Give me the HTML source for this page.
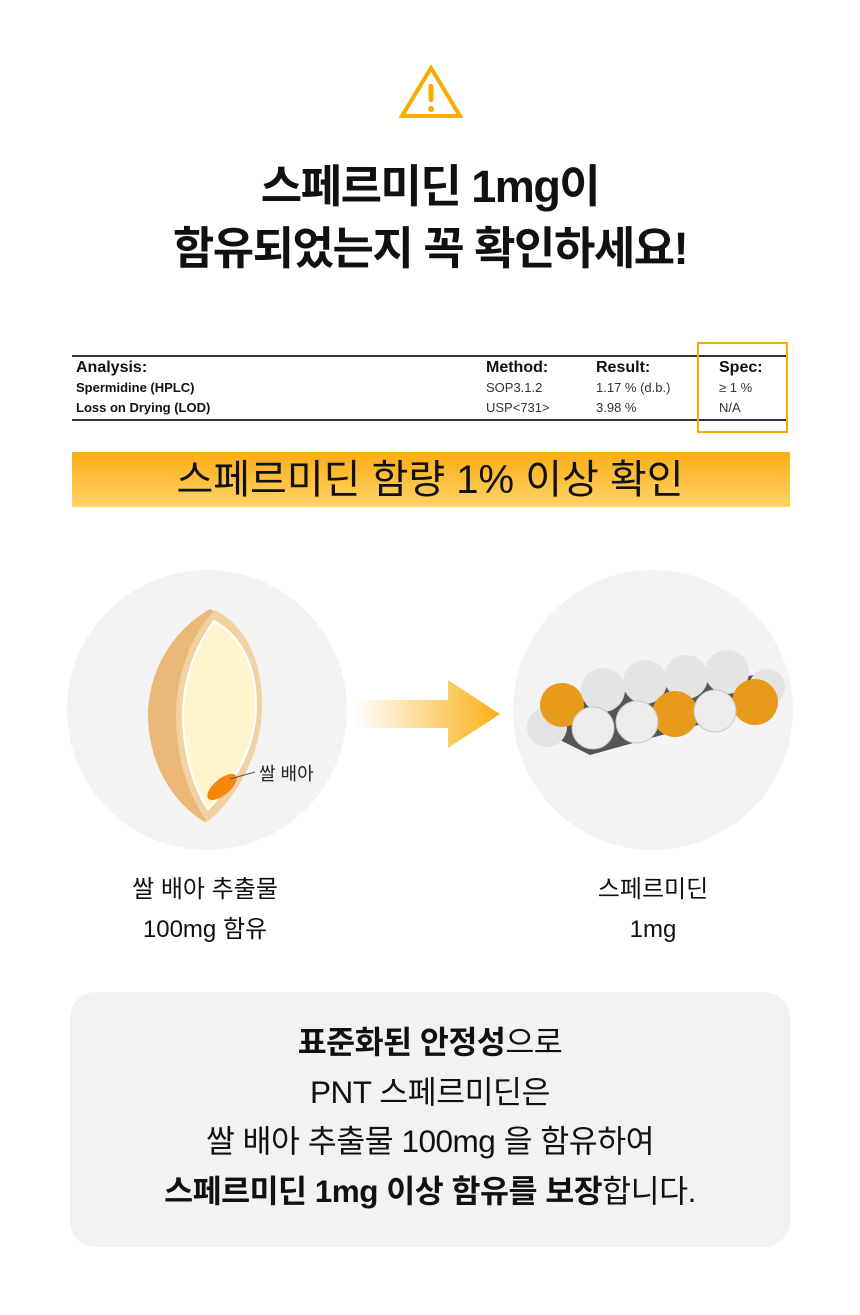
<!DOCTYPE html>
<html><head><meta charset="utf-8"><style>
*{margin:0;padding:0;box-sizing:border-box}
body{width:860px;height:1315px;background:#fff;position:relative;overflow:hidden;font-family:"Liberation Sans","Noto Sans CJK KR",sans-serif;color:#111}
.abs{position:absolute}
.t{position:absolute;left:0;width:860px;text-align:center}
.tbl{font-family:"Liberation Sans",sans-serif;position:absolute;color:#111}
</style></head><body>
<svg class="abs" style="left:398px;top:64px" width="66" height="56" viewBox="0 0 66 56">
<path d="M33 4 L62 52 L4 52 Z" fill="none" stroke="#f9ab00" stroke-width="4" stroke-linejoin="miter"/>
<rect x="30.5" y="20" width="5" height="18" rx="2" fill="#f9ab00"/>
<circle cx="33" cy="45" r="3" fill="#f9ab00"/>
</svg>
<div class="t" style="top:158px;font-size:45px;font-weight:bold;letter-spacing:-1.5px;line-height:58px">스페르미딘 1mg이</div>
<div class="t" style="top:220px;font-size:45px;font-weight:bold;letter-spacing:-1.5px;line-height:58px">함유되었는지 꼭 확인하세요!</div>

<div class="abs" style="left:72px;top:355px;width:716px;height:2px;background:#333"></div>
<div class="abs" style="left:72px;top:419px;width:716px;height:2px;background:#333"></div>
<div class="tbl" style="left:76px;top:359px;font-size:16px;font-weight:bold">Analysis:</div>
<div class="tbl" style="left:76px;top:380px;font-size:13px;font-weight:bold">Spermidine (HPLC)</div>
<div class="tbl" style="left:76px;top:400px;font-size:13px;font-weight:bold">Loss on Drying (LOD)</div>
<div class="tbl" style="left:486px;top:359px;font-size:16px;font-weight:bold">Method:</div>
<div class="tbl" style="left:486px;top:380px;font-size:13px;color:#333">SOP3.1.2</div>
<div class="tbl" style="left:486px;top:400px;font-size:13px;color:#333">USP&lt;731&gt;</div>
<div class="tbl" style="left:596px;top:359px;font-size:16px;font-weight:bold">Result:</div>
<div class="tbl" style="left:596px;top:380px;font-size:13px;color:#333">1.17 % (d.b.)</div>
<div class="tbl" style="left:596px;top:400px;font-size:13px;color:#333">3.98 %</div>
<div class="tbl" style="left:719px;top:359px;font-size:16px;font-weight:bold">Spec:</div>
<div class="tbl" style="left:719px;top:380px;font-size:13px;color:#333">≥ 1 %</div>
<div class="tbl" style="left:719px;top:400px;font-size:13px;color:#333">N/A</div>
<div class="abs" style="left:697px;top:342px;width:91px;height:91px;border:2px solid #f9ab00"></div>

<div class="abs" style="left:72px;top:452px;width:718px;height:55px;background:linear-gradient(#fbac14,#ffd468)"></div>
<div class="t" style="top:453px;font-size:40px;line-height:55px;color:#111">스페르미딘 함량 1% 이상 확인</div>

<div class="abs" style="left:67px;top:570px;width:280px;height:280px;border-radius:50%;background:#f3f3f3"></div>
<div class="abs" style="left:513px;top:570px;width:280px;height:280px;border-radius:50%;background:#f3f3f3"></div>

<svg class="abs" style="left:0;top:0" width="860" height="900">
<defs>
<linearGradient id="ar" x1="0" x2="1"><stop offset="0" stop-color="#fbb015" stop-opacity="0"/><stop offset="1" stop-color="#fbb015"/></linearGradient>
</defs>
<path d="M210 609 C165 635 148 680 148 715 C148 765 175 805 205 822 L215 815 C240 790 262 750 262 705 C262 660 245 625 210 609Z" fill="#ecb878"/>
<path d="M215 610 C195 630 176 670 176 715 C176 765 192 800 207 822 C235 800 262 755 262 705 C262 660 245 625 215 610Z" fill="#f1d2a2"/>
<path d="M214 621 C196 645 183 680 183 715 C183 755 195 790 208 809 C232 785 256 750 256 705 C256 665 240 635 214 621Z" fill="#fff6cf" stroke="#fff" stroke-width="2"/>
<ellipse cx="222" cy="787" rx="18" ry="8" transform="rotate(-40 222 787)" fill="#f7870b"/>
<line x1="230" y1="779" x2="255" y2="772" stroke="#555" stroke-width="1"/>
<path d="M355 700 L448 700 L448 680 L500 714 L448 748 L448 728 L355 728Z" fill="url(#ar)"/>
<g>
<path d="M565 700 L755 675 L770 705 L590 755 L560 740Z" fill="#555"/>
<circle cx="547" cy="727" r="20" fill="#e3e3e3"/>
<circle cx="767" cy="687" r="18" fill="#e3e3e3"/>
<circle cx="562" cy="705" r="22" fill="#e89a1a"/>
<circle cx="603" cy="690" r="22" fill="#e4e4e4"/>
<circle cx="645" cy="682" r="22" fill="#e4e4e4"/>
<circle cx="686" cy="677" r="22" fill="#e4e4e4"/>
<circle cx="727" cy="672" r="22" fill="#e4e4e4"/>
<circle cx="675" cy="714" r="23" fill="#e89a1a"/>
<circle cx="755" cy="702" r="23" fill="#e89a1a"/>
<circle cx="593" cy="728" r="21" fill="#ececec" stroke="#c8c8c8"/>
<circle cx="637" cy="722" r="21" fill="#ececec" stroke="#c8c8c8"/>
<circle cx="715" cy="711" r="21" fill="#ececec" stroke="#c8c8c8"/>
</g>
</svg>
<div class="abs" style="left:259px;top:760px;font-size:18px;color:#222">쌀 배아</div>

<div class="t" style="left:-225px;top:870px;font-size:24px;line-height:40px;color:#111">쌀 배아 추출물<br>100mg 함유</div>
<div class="t" style="left:223px;top:870px;font-size:24px;line-height:40px;color:#111">스페르미딘<br>1mg</div>

<div class="abs" style="left:70px;top:992px;width:720px;height:255px;border-radius:26px;background:#f2f2f2"></div>
<div class="t" style="top:1018px;font-size:31.5px;line-height:49.5px;color:#111;letter-spacing:-0.5px">
<b>표준화된 안정성</b>으로<br>PNT 스페르미딘은<br>쌀 배아 추출물 100mg 을 함유하여<br><b>스페르미딘 1mg 이상 함유를 보장</b>합니다.
</div>
</body></html>
